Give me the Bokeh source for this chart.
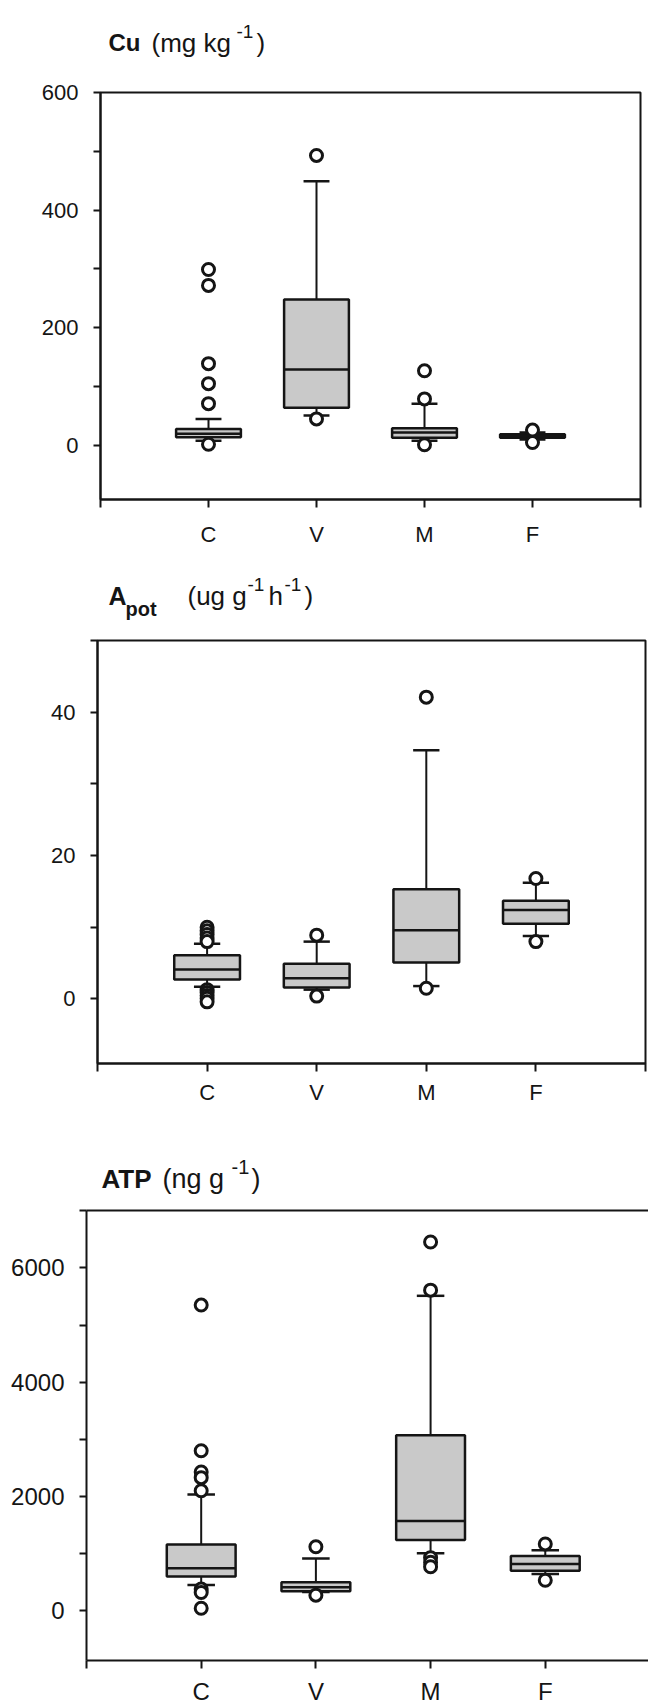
from bokeh.plotting import figure
from bokeh.models import Range1d, FixedTicker, LinearAxis
from bokeh.core.properties import value
from bokeh.embed import file_html
from bokeh.resources import INLINE

# ---------------- data ----------------
cats = ["C", "V", "M", "F"]
xpos = [1, 2, 3, 4]

# Cu (mg kg-1)
cu_q1 = [14, 64, 13, 13]
cu_med = [20, 129, 22, 16]
cu_q3 = [28, 248, 29, 19]
cu_lo = [8, 51, 8, 10]
cu_hi = [45, 449, 71, 22]
cu_out = [[299, 272, 139, 105, 71, 2], [493, 45], [127, 79, 1], [26, 5]]
cu_major = [0, 200, 400, 600]
cu_minor = [100, 300, 500]

# Apot (ug g-1 h-1)
ap_q1 = [2.7, 1.6, 5.1, 10.5]
ap_med = [4.1, 2.9, 9.6, 12.4]
ap_q3 = [6.1, 4.9, 15.3, 13.7]
ap_lo = [1.7, 1.3, 1.8, 8.8]
ap_hi = [7.7, 8.0, 34.7, 16.2]
ap_out = [[10.0, 9.5, 9.0, 8.5, 8.0, 1.3, 0.9, 0.5, 0.1, -0.4], [8.9, 0.4], [42.1, 1.5], [16.8, 8.0]]
ap_major = [0, 20, 40]
ap_minor = [10, 30, 50]

# ATP (ng g-1)
atp_q1 = [600, 340, 1240, 700]
atp_med = [745, 410, 1570, 820]
atp_q3 = [1160, 500, 3070, 960]
atp_lo = [450, 330, 1006, 645]
atp_hi = [2035, 914, 5512, 1059]
atp_out = [[5350, 2800, 2430, 2330, 2100, 380, 320, 44], [1120, 274], [6454, 5611, 930, 850, 770], [1170, 535]]
atp_major = [0, 2000, 4000, 6000]
atp_minor = [1000, 3000, 5000, 7000]

FONT = "Liberation Sans"
INK = "#151515"
BOXFILL = "#c9c9c9"
BOX_W = 0.6
CAP_W = 0.24


def title_strip(h, pieces):
    t = figure(width=648, height=h, output_backend="svg", toolbar_location=None,
               x_range=Range1d(0, 648), y_range=Range1d(h, 0),
               x_axis_location=None, y_axis_location=None,
               min_border_left=0, min_border_right=0,
               min_border_top=0, min_border_bottom=0)
    t.xgrid.grid_line_color = None
    t.ygrid.grid_line_color = None
    t.outline_line_color = None
    for (txt, x, y, size, bold) in pieces:
        t.text(x=[x], y=[y], text=[txt], text_font=value(FONT),
               text_font_size=size, text_font_style="bold" if bold else "normal",
               text_color=INK, text_baseline="alphabetic", text_align="left")
    return t


def panel(h, left, right, top, bottom, x_end, y_rng, major, minor,
          q1, med, q3, lo, hi, outs, outline=True, x_ticks_n=6, xstand=14,
          fsize="22px"):
    p = figure(width=648, height=h, output_backend="svg", toolbar_location=None,
               x_range=Range1d(0, x_end), y_range=Range1d(*y_rng),
               min_border_left=left, min_border_right=right,
               min_border_top=top, min_border_bottom=bottom)
    p.xgrid.grid_line_color = None
    p.ygrid.grid_line_color = None
    p.background_fill_color = "white"
    p.border_fill_color = "white"

    # y axis
    yax = p.left[0]
    yax.ticker = FixedTicker(ticks=major, minor_ticks=minor)
    yax.axis_line_width = 2
    yax.axis_line_color = INK
    yax.major_tick_line_width = 2
    yax.minor_tick_line_width = 2
    yax.major_tick_line_color = INK
    yax.minor_tick_line_color = INK
    yax.major_tick_in = 0
    yax.major_tick_out = 7
    yax.minor_tick_in = 0
    yax.minor_tick_out = 7
    yax.major_label_text_font = FONT
    yax.major_label_text_font_size = fsize
    yax.major_label_text_color = INK
    yax.major_label_standoff = 15

    # x axis
    xax = p.below[0]
    ticks = list(range(x_ticks_n))
    xax.ticker = FixedTicker(ticks=ticks)
    ov = {t: "" for t in ticks}
    for c, xp in zip(cats, xpos):
        ov[xp] = c
    xax.major_label_overrides = ov
    xax.axis_line_width = 2
    xax.axis_line_color = INK
    xax.major_tick_line_width = 2
    xax.major_tick_line_color = INK
    xax.major_tick_in = 0
    xax.major_tick_out = 8
    xax.minor_tick_line_color = None
    xax.major_label_text_font = FONT
    xax.major_label_text_font_size = fsize
    xax.major_label_text_color = INK
    xax.major_label_standoff = xstand

    if outline:
        p.outline_line_color = INK
        p.outline_line_width = 2
    else:
        p.outline_line_color = None
        top_ax = LinearAxis(ticker=FixedTicker(ticks=[]), axis_line_width=2,
                            axis_line_color=INK, major_label_text_font_size="0px",
                            major_tick_line_color=None, minor_tick_line_color=None)
        p.add_layout(top_ax, "above")

    # whiskers
    p.segment(x0=xpos, x1=xpos, y0=q3, y1=hi, line_color=INK, line_width=2)
    p.segment(x0=xpos, x1=xpos, y0=q1, y1=lo, line_color=INK, line_width=2)
    cx0 = [x - CAP_W / 2 for x in xpos]
    cx1 = [x + CAP_W / 2 for x in xpos]
    p.segment(x0=cx0, x1=cx1, y0=hi, y1=hi, line_color=INK, line_width=2.5)
    p.segment(x0=cx0, x1=cx1, y0=lo, y1=lo, line_color=INK, line_width=2.5)
    # boxes
    p.vbar(x=xpos, width=BOX_W, bottom=q1, top=q3, fill_color=BOXFILL,
           line_color=INK, line_width=2.5)
    mx0 = [x - BOX_W / 2 for x in xpos]
    mx1 = [x + BOX_W / 2 for x in xpos]
    p.segment(x0=mx0, x1=mx1, y0=med, y1=med, line_color=INK, line_width=2.5)
    # outliers
    ox, oy = [], []
    for xp, vals in zip(xpos, outs):
        for v in vals:
            ox.append(xp)
            oy.append(v)
    p.scatter(ox, oy, marker="circle", size=12, fill_color="white",
              line_color=INK, line_width=3)
    return p


t1 = title_strip(70, [("Cu", 108, 42, "24px", True),
                      ("(mg kg", 151, 42, "26px", False),
                      ("-1", 236, 31, "19px", False),
                      (")", 256, 42, "26px", False)])
p1 = panel(490, 100, 8, 22, 61, 5, (-92, 600), cu_major, cu_minor,
           cu_q1, cu_med, cu_q3, cu_lo, cu_hi, cu_out)

t2 = title_strip(70, [("A", 108, 35, "25px", True),
                      ("pot", 125, 48, "20px", True),
                      ("(ug g", 187, 35, "26px", False),
                      ("-1", 247, 24, "19px", False),
                      ("h", 268, 35, "26px", False),
                      ("-1", 284, 24, "19px", False),
                      (")", 304, 35, "26px", False)])
p2 = panel(490, 97, 3, 10, 57, 5, (-9, 50), ap_major, ap_minor,
           ap_q1, ap_med, ap_q3, ap_lo, ap_hi, ap_out, xstand=8)

t3 = title_strip(80, [("ATP", 101, 58, "26px", True),
                      ("(ng g", 162, 58, "27px", False),
                      ("-1", 231, 46, "20px", False),
                      (")", 251, 58, "27px", False)])
p3 = panel(508, 86, 0, 10, 48, 4.9, (-870, 7005), atp_major, atp_minor,
           atp_q1, atp_med, atp_q3, atp_lo, atp_hi, atp_out,
           outline=False, x_ticks_n=5, xstand=9, fsize="24px")

open("out.html", "w").write(file_html([t1, p1, t2, p2, t3, p3], INLINE))
